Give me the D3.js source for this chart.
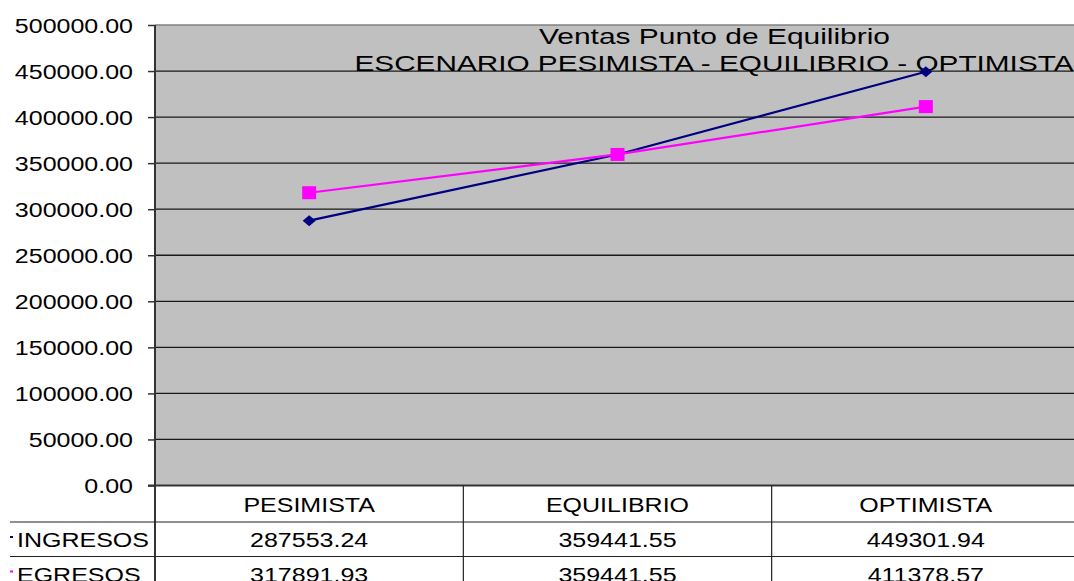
<!DOCTYPE html>
<html>
<head>
<meta charset="utf-8">
<script src="https://cdn.jsdelivr.net/npm/d3@7/dist/d3.min.js"></script>
<style>
  html, body { margin: 0; padding: 0; background: #fff; }
  svg { display: block; font-family: "Liberation Sans", Arial, sans-serif; }
</style>
</head>
<body>
<svg id="chart" width="1074" height="581"></svg>
<script>
const categories = ["PESIMISTA", "EQUILIBRIO", "OPTIMISTA"];
const seriesNames = ["INGRESOS", "EGRESOS"];
const ingresos = [287553.24, 359441.55, 449301.94];
const egresos = [317891.93, 359441.55, 411378.57];
const yTicks = [0, 50000, 100000, 150000, 200000, 250000, 300000, 350000, 400000, 450000, 500000];
const titleLines = ["Ventas Punto de Equilibrio", "ESCENARIO PESIMISTA - EQUILIBRIO - OPTIMISTA"];

const series = [
  { name: seriesNames[0], values: ingresos, color: "#000080", marker: "diamond" },
  { name: seriesNames[1], values: egresos, color: "#FF00FF", marker: "square" }
];

const svg = d3.select("#chart");
const W = 1074, H = 581;
const plotL = 155, plotR = 1080, plotT = 25, plotB = 485.5;
const rowH = 34.5;
const STRETCH = 1.25;

const x = d3.scaleBand().domain(categories).range([plotL, plotR]);
const y = d3.scaleLinear().domain([0, 500000]).range([plotB, plotT]);

// plot background
svg.append("rect").attr("x", plotL).attr("y", plotT)
  .attr("width", plotR - plotL).attr("height", plotB - plotT).attr("fill", "#C0C0C0");

// gridlines
svg.append("g").selectAll("line").data(yTicks.filter(d => d > 0 && d < 500000)).join("line")
  .attr("x1", plotL).attr("x2", plotR)
  .attr("y1", d => y(d)).attr("y2", d => y(d))
  .attr("stroke", "#1a1a1a").attr("stroke-width", 1.3);
// top border
svg.append("line").attr("x1", plotL).attr("x2", plotR).attr("y1", plotT).attr("y2", plotT)
  .attr("stroke", "#808080").attr("stroke-width", 1.5);

// y axis
const yAxis = d3.axisLeft(y).tickValues(yTicks).tickFormat(d3.format(".2f")).tickSize(7).tickPadding(15);
const ax = svg.append("g").attr("transform", `translate(${plotL},0)`).call(yAxis);
ax.select(".domain").remove();
ax.selectAll(".tick line").attr("stroke", "#333").attr("stroke-width", 1.5);
ax.selectAll(".tick text").attr("font-size", 20).attr("fill", "#000")
  .attr("font-family", "'Liberation Sans', Arial, sans-serif").attr("dy", "0.36em").classed("stretch", true);

// axis line (continues into table)
svg.append("line").attr("x1", plotL).attr("x2", plotL).attr("y1", plotT).attr("y2", H)
  .attr("stroke", "#333").attr("stroke-width", 2);

// table
const tableTop = plotB;
svg.append("line").attr("x1", plotL - 7).attr("x2", plotR).attr("y1", tableTop).attr("y2", tableTop)
  .attr("stroke", "#333").attr("stroke-width", 2);
[1, 2, 3].forEach(i => {
  svg.append("line").attr("x1", 10).attr("x2", plotR)
    .attr("y1", tableTop + i * rowH + 2).attr("y2", tableTop + i * rowH + 2)
    .attr("stroke", "#222").attr("stroke-width", 1.2);
});
categories.slice(1).forEach(c => {
  svg.append("line").attr("x1", x(c)).attr("x2", x(c)).attr("y1", tableTop).attr("y2", H)
    .attr("stroke", "#222").attr("stroke-width", 1.2);
});
svg.append("g").selectAll("text").data(categories).join("text")
  .attr("x", d => x(d) + x.bandwidth() / 2).attr("y", tableTop + 26)
  .attr("text-anchor", "middle").attr("font-size", 20).attr("fill", "#000")
  .classed("stretch", true).text(d => d);

const fmt = d3.format(".2f");
series.forEach((s, si) => {
  const rowY = tableTop + (si + 1) * rowH + 2;
  svg.append("g").selectAll("text").data(s.values).join("text")
    .attr("x", (d, i) => x(categories[i]) + x.bandwidth() / 2).attr("y", rowY + 25)
    .attr("text-anchor", "middle").attr("font-size", 20).attr("fill", "#000")
    .classed("stretch", true).text(d => fmt(d));
  svg.append("line").attr("x1", 10).attr("x2", 13).attr("y1", rowY + 15).attr("y2", rowY + 15)
    .attr("stroke", s.color).attr("stroke-width", 2);
  svg.append("text").attr("x", 17).attr("y", rowY + 25).attr("font-size", 20).attr("fill", "#000")
    .classed("stretch", true).text(s.name);
});

// title
const tEl = svg.append("g");
tEl.append("text").attr("x", 714.5).attr("y", 44).attr("text-anchor", "middle").attr("font-size", 22.5)
  .attr("fill", "#000").attr("textLength", 351).attr("lengthAdjust", "spacingAndGlyphs").text(titleLines[0]);
tEl.append("text").attr("x", 714).attr("y", 71).attr("text-anchor", "middle").attr("font-size", 22.5)
  .attr("fill", "#000").attr("textLength", 719).attr("lengthAdjust", "spacingAndGlyphs").text(titleLines[1]);

// series lines and markers
const line = d3.line().x((d, i) => x(categories[i]) + x.bandwidth() / 2).y(d => y(d));
series.forEach(s => {
  svg.append("path").datum(s.values).attr("d", line).attr("fill", "none")
    .attr("stroke", s.color).attr("stroke-width", 2.2);
});
series.forEach(s => {
  const g = svg.append("g");
  s.values.forEach((v, i) => {
    const cx = x(categories[i]) + x.bandwidth() / 2, cy = y(v);
    if (s.marker === "square") {
      g.append("rect").attr("x", cx - 7).attr("y", cy - 6.5).attr("width", 14).attr("height", 13)
        .attr("fill", s.color);
    } else {
      g.append("path").attr("d", `M${cx - 6.5},${cy} L${cx},${cy - 5.5} L${cx + 6.5},${cy} L${cx},${cy + 5.5} Z`)
        .attr("fill", s.color);
    }
  });
});

// horizontal stretch of text to match reference
svg.selectAll("text.stretch").each(function () {
  const w = this.getComputedTextLength();
  d3.select(this).attr("textLength", w * STRETCH).attr("lengthAdjust", "spacingAndGlyphs");
});
</script>
</body>
</html>
